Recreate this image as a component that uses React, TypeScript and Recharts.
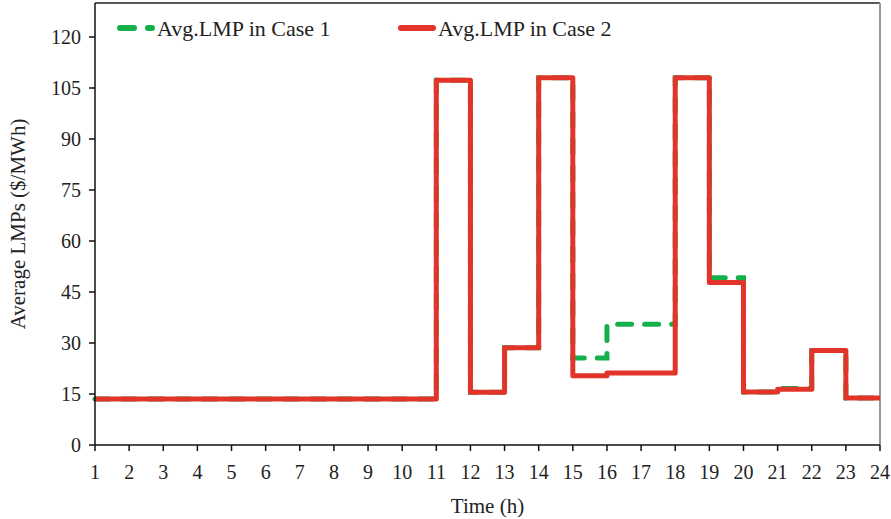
import React from 'react';
import { LineChart, Line, XAxis, YAxis, ReferenceLine } from 'recharts';

const hours = [1, 2, 3, 4, 5, 6, 7, 8, 9, 10, 11, 12, 13, 14, 15, 16, 17, 18, 19, 20, 21, 22, 23, 24];
const case1 = [13.5, 13.5, 13.5, 13.5, 13.5, 13.5, 13.5, 13.5, 13.5, 13.5, 107.3, 15.5, 28.6, 108, 25.6, 35.5, 35.5, 108, 49.2, 15.6, 16.6, 27.8, 13.8, 13.8];
const case2 = [13.5, 13.5, 13.5, 13.5, 13.5, 13.5, 13.5, 13.5, 13.5, 13.5, 107.3, 15.5, 28.6, 108, 20.4, 21.2, 21.2, 108, 47.8, 15.6, 16.4, 27.8, 13.8, 13.8];
const yTicks = [0, 15, 30, 45, 60, 75, 90, 105, 120];
const seriesNames = ['Avg.LMP in Case 1', 'Avg.LMP in Case 2'];

const data = hours.map((h, i) => ({ hour: h, case1: case1[i], case2: case2[i] }));

const FONT = '"Liberation Serif", "Times New Roman", serif';
const GREEN = '#13b04b';
const RED = '#e3342a';
const TEXT = '#222';

// legend sits inside the plot, drawn as an overlay so it doesn't shift the plot area
function LegendOverlay() {
  const items = [
    { name: seriesNames[0], color: GREEN, dash: '14 14', x: 117 },
    { name: seriesNames[1], color: RED, dash: undefined, x: 398 },
  ];
  return (
    <svg width={891} height={60} style={{ position: 'absolute', left: 0, top: 0, pointerEvents: 'none' }}>
      {items.map((it) => (
        <g key={it.name}>
          <line
            x1={it.x + 3}
            x2={it.x + 35}
            y1={28}
            y2={28}
            stroke={it.color}
            strokeWidth={6}
            strokeLinecap="round"
            strokeDasharray={it.dash}
          />
          <text x={it.x + 40} y={36} fontFamily={FONT} fontSize={22} fill={TEXT}>
            {it.name}
          </text>
        </g>
      ))}
    </svg>
  );
}

export default function App() {
  return (
    <div style={{ position: 'absolute', left: 0, top: 0, width: 891, height: 519, background: '#fff' }}>
      <LineChart width={891} height={519} data={data} margin={{ top: 3, right: 11, left: 0, bottom: 0 }}>
        <XAxis
          dataKey="hour"
          type="number"
          domain={[1, 24]}
          ticks={hours}
          interval={0}
          height={74}
          stroke="#111"
          strokeWidth={1.5}
          tickSize={6}
          tickMargin={14}
          tick={{ fill: TEXT, fontSize: 20, fontFamily: FONT }}
          label={{ value: 'Time (h)', position: 'insideBottom', offset: 6, style: { fill: TEXT, fontSize: 21, fontFamily: FONT } }}
        />
        <YAxis
          type="number"
          domain={[0, 130]}
          ticks={yTicks}
          interval={0}
          width={95}
          stroke="#111"
          strokeWidth={1.5}
          tickSize={6}
          tickMargin={8}
          tick={{ fill: TEXT, fontSize: 20, fontFamily: FONT }}
          label={{ value: 'Average LMPs ($/MWh)', angle: -90, position: 'insideLeft', offset: 18, style: { textAnchor: 'middle', fill: TEXT, fontSize: 21, fontFamily: FONT } }}
        />
        <ReferenceLine y={130} stroke="#222" strokeWidth={1.5} />
        <ReferenceLine x={24} stroke="#999" strokeWidth={2} />
        <Line
          type="stepAfter"
          dataKey="case1"
          name={seriesNames[0]}
          stroke={GREEN}
          strokeWidth={5}
          strokeDasharray="14 13"
          strokeLinecap="round"
          dot={false}
          isAnimationActive={false}
        />
        <Line
          type="stepAfter"
          dataKey="case2"
          name={seriesNames[1]}
          stroke={RED}
          strokeWidth={5}
          strokeLinejoin="round"
          dot={false}
          isAnimationActive={false}
        />
      </LineChart>
      <LegendOverlay />
    </div>
  );
}
